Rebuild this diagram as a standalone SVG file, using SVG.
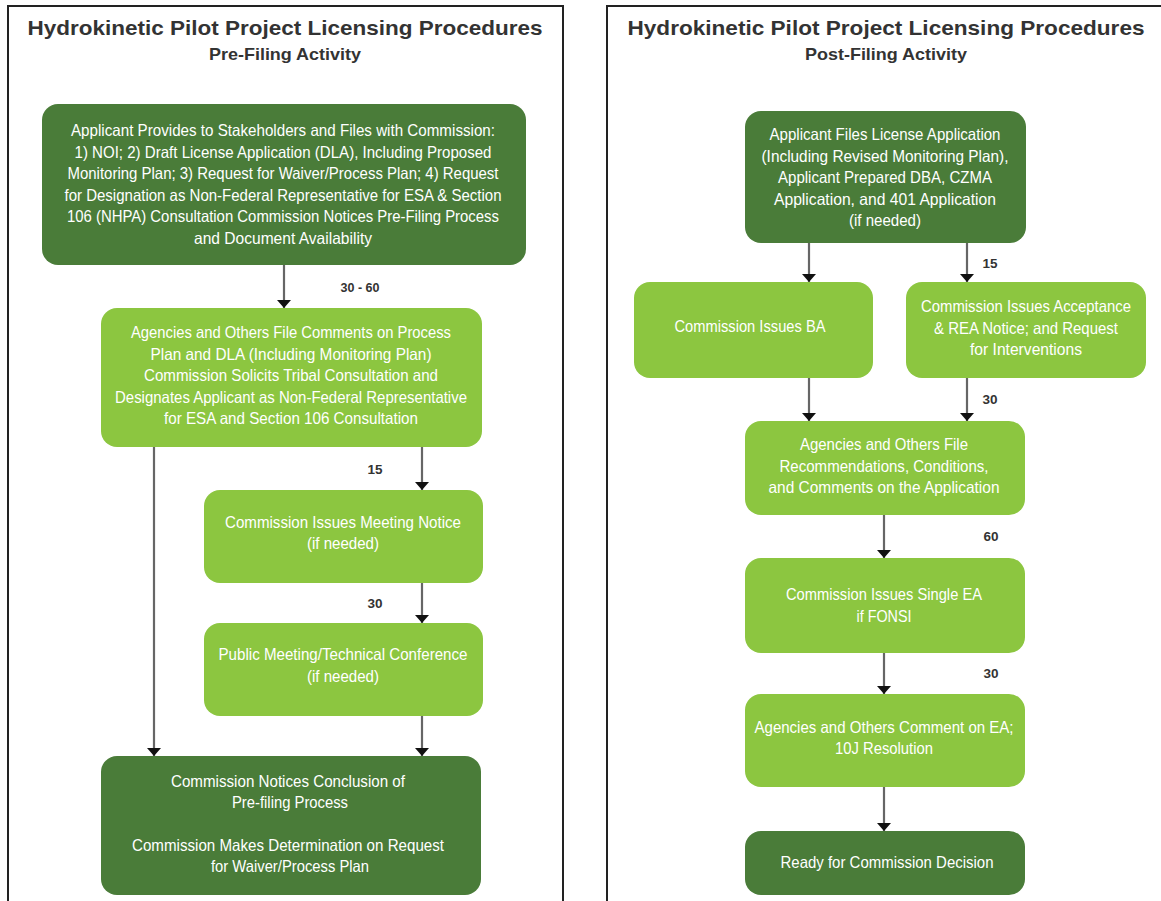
<svg xmlns="http://www.w3.org/2000/svg" width="1161" height="901" viewBox="0 0 1161 901">
<defs>
<style>
.dk{fill:#4a7c39}
.lt{fill:#8cc640}
.t{font-family:"Liberation Sans",Arial,sans-serif;font-size:16.5px;fill:#fff;text-anchor:middle}
.ttl{font-family:"Liberation Sans",Arial,sans-serif;font-weight:bold;fill:#333;text-anchor:middle}
.lbl{font-family:"Liberation Sans",Arial,sans-serif;font-weight:bold;font-size:13.5px;fill:#333;text-anchor:middle}
.edge{stroke:#666;stroke-width:2.2;fill:none;marker-end:url(#ah)}
.frame{stroke:#222;stroke-width:2;fill:none}
</style>
<marker id="ah" viewBox="0 0 8 14" refX="8" refY="7" markerWidth="8" markerHeight="14" markerUnits="userSpaceOnUse" orient="auto">
<path d="M0,0 L8,7 L0,14 z" fill="#111"/>
</marker>
</defs>
<rect width="1161" height="901" fill="#fff"/>
<path class="frame" d="M8,901 V6 H563 V901"/>
<path class="frame" d="M607,901 V6 H1161"/>

<g id="titles">
<text class="ttl" x="285" y="35" font-size="21" textLength="515" lengthAdjust="spacingAndGlyphs">Hydrokinetic Pilot Project Licensing Procedures</text>
<text class="ttl" x="285" y="60" font-size="17" textLength="152" lengthAdjust="spacingAndGlyphs">Pre-Filing Activity</text>
<text class="ttl" x="886" y="35" font-size="21" textLength="517" lengthAdjust="spacingAndGlyphs">Hydrokinetic Pilot Project Licensing Procedures</text>
<text class="ttl" x="886" y="60" font-size="17" textLength="162" lengthAdjust="spacingAndGlyphs">Post-Filing Activity</text>
</g>

<g id="connectors">
<line class="edge" x1="284" y1="265" x2="284" y2="308"/>
<line class="edge" x1="154" y1="447" x2="154" y2="756"/>
<line class="edge" x1="422" y1="447" x2="422" y2="490"/>
<line class="edge" x1="422" y1="583" x2="422" y2="623"/>
<line class="edge" x1="422" y1="716" x2="422" y2="756"/>
<line class="edge" x1="809" y1="243" x2="809" y2="282"/>
<line class="edge" x1="967" y1="243" x2="967" y2="282"/>
<line class="edge" x1="809" y1="378" x2="809" y2="421"/>
<line class="edge" x1="967" y1="378" x2="967" y2="421"/>
<line class="edge" x1="884" y1="515" x2="884" y2="558"/>
<line class="edge" x1="884" y1="653" x2="884" y2="694"/>
<line class="edge" x1="884" y1="787" x2="884" y2="831"/>
<text class="lbl" x="360" y="292" textLength="39" lengthAdjust="spacingAndGlyphs">30 - 60</text>
<text class="lbl" x="375" y="474">15</text>
<text class="lbl" x="375" y="608">30</text>
<text class="lbl" x="990" y="268">15</text>
<text class="lbl" x="990" y="404">30</text>
<text class="lbl" x="991" y="541">60</text>
<text class="lbl" x="991" y="678">30</text>
</g>

<g id="n1">
<rect class="dk" x="42" y="104" width="484" height="161" rx="16"/>
<text class="t" x="283" y="136" textLength="424" lengthAdjust="spacingAndGlyphs">Applicant Provides to Stakeholders and Files with Commission:</text>
<text class="t" x="283" y="157.5" textLength="417" lengthAdjust="spacingAndGlyphs">1) NOI; 2) Draft License Application (DLA), Including Proposed</text>
<text class="t" x="283" y="179" textLength="431" lengthAdjust="spacingAndGlyphs">Monitoring Plan; 3) Request for Waiver/Process Plan; 4) Request</text>
<text class="t" x="283" y="200.5" textLength="437" lengthAdjust="spacingAndGlyphs">for Designation as Non-Federal Representative for ESA &amp; Section</text>
<text class="t" x="283" y="222" textLength="432" lengthAdjust="spacingAndGlyphs">106 (NHPA) Consultation Commission Notices Pre-Filing Process</text>
<text class="t" x="283" y="243.5" textLength="178" lengthAdjust="spacingAndGlyphs">and Document Availability</text>
</g>

<g id="n2">
<rect class="lt" x="101" y="308" width="381" height="139" rx="16"/>
<text class="t" x="291" y="338" textLength="320" lengthAdjust="spacingAndGlyphs">Agencies and Others File Comments on Process</text>
<text class="t" x="291" y="360" textLength="281" lengthAdjust="spacingAndGlyphs">Plan and DLA (Including Monitoring Plan)</text>
<text class="t" x="291" y="381" textLength="294" lengthAdjust="spacingAndGlyphs">Commission Solicits Tribal Consultation and</text>
<text class="t" x="291" y="403" textLength="352" lengthAdjust="spacingAndGlyphs">Designates Applicant as Non-Federal Representative</text>
<text class="t" x="291" y="424" textLength="254" lengthAdjust="spacingAndGlyphs">for ESA and Section 106 Consultation</text>
</g>

<g id="n3">
<rect class="lt" x="204" y="490" width="279" height="93" rx="16"/>
<text class="t" x="343" y="528" textLength="236" lengthAdjust="spacingAndGlyphs">Commission Issues Meeting Notice</text>
<text class="t" x="343" y="549" textLength="72" lengthAdjust="spacingAndGlyphs">(if needed)</text>
</g>

<g id="n4">
<rect class="lt" x="204" y="623" width="279" height="93" rx="16"/>
<text class="t" x="343" y="660" textLength="249" lengthAdjust="spacingAndGlyphs">Public Meeting/Technical Conference</text>
<text class="t" x="343" y="682" textLength="72" lengthAdjust="spacingAndGlyphs">(if needed)</text>
</g>

<g id="n5">
<rect class="dk" x="101" y="756" width="380" height="139" rx="16"/>
<text class="t" x="288" y="787" textLength="234" lengthAdjust="spacingAndGlyphs">Commission Notices Conclusion of</text>
<text class="t" x="290" y="808" textLength="116" lengthAdjust="spacingAndGlyphs">Pre-filing Process</text>
<text class="t" x="288" y="851" textLength="312" lengthAdjust="spacingAndGlyphs">Commission Makes Determination on Request</text>
<text class="t" x="290" y="872" textLength="158" lengthAdjust="spacingAndGlyphs">for Waiver/Process Plan</text>
</g>

<g id="r1">
<rect class="dk" x="745" y="111" width="281" height="132" rx="16"/>
<text class="t" x="885" y="140" textLength="231" lengthAdjust="spacingAndGlyphs">Applicant Files License Application</text>
<text class="t" x="885" y="161.5" textLength="247" lengthAdjust="spacingAndGlyphs">(Including Revised Monitoring Plan),</text>
<text class="t" x="885" y="183" textLength="214" lengthAdjust="spacingAndGlyphs">Applicant Prepared DBA, CZMA</text>
<text class="t" x="885" y="204.5" textLength="222" lengthAdjust="spacingAndGlyphs">Application, and 401 Application</text>
<text class="t" x="885" y="226" textLength="72" lengthAdjust="spacingAndGlyphs">(if needed)</text>
</g>

<g id="r2">
<rect class="lt" x="634" y="282" width="239" height="96" rx="16"/>
<text class="t" x="750" y="332" textLength="151" lengthAdjust="spacingAndGlyphs">Commission Issues BA</text>
</g>

<g id="r3">
<rect class="lt" x="906" y="282" width="240" height="96" rx="16"/>
<text class="t" x="1026" y="312" textLength="210" lengthAdjust="spacingAndGlyphs">Commission Issues Acceptance</text>
<text class="t" x="1026" y="334" textLength="184" lengthAdjust="spacingAndGlyphs">&amp; REA Notice; and Request</text>
<text class="t" x="1026" y="355" textLength="112" lengthAdjust="spacingAndGlyphs">for Interventions</text>
</g>

<g id="r4">
<rect class="lt" x="745" y="421" width="280" height="94" rx="16"/>
<text class="t" x="884" y="450" textLength="168" lengthAdjust="spacingAndGlyphs">Agencies and Others File</text>
<text class="t" x="884" y="472" textLength="209" lengthAdjust="spacingAndGlyphs">Recommendations, Conditions,</text>
<text class="t" x="884" y="493" textLength="231" lengthAdjust="spacingAndGlyphs">and Comments on the Application</text>
</g>

<g id="r5">
<rect class="lt" x="745" y="558" width="280" height="95" rx="16"/>
<text class="t" x="884" y="600" textLength="196" lengthAdjust="spacingAndGlyphs">Commission Issues Single EA</text>
<text class="t" x="884" y="622" textLength="55" lengthAdjust="spacingAndGlyphs">if FONSI</text>
</g>

<g id="r6">
<rect class="lt" x="745" y="694" width="280" height="93" rx="16"/>
<text class="t" x="884" y="733" textLength="259" lengthAdjust="spacingAndGlyphs">Agencies and Others Comment on EA;</text>
<text class="t" x="884" y="754" textLength="98" lengthAdjust="spacingAndGlyphs">10J Resolution</text>
</g>

<g id="r7">
<rect class="dk" x="745" y="831" width="280" height="64" rx="16"/>
<text class="t" x="887" y="868" textLength="213" lengthAdjust="spacingAndGlyphs">Ready for Commission Decision</text>
</g>
</svg>
